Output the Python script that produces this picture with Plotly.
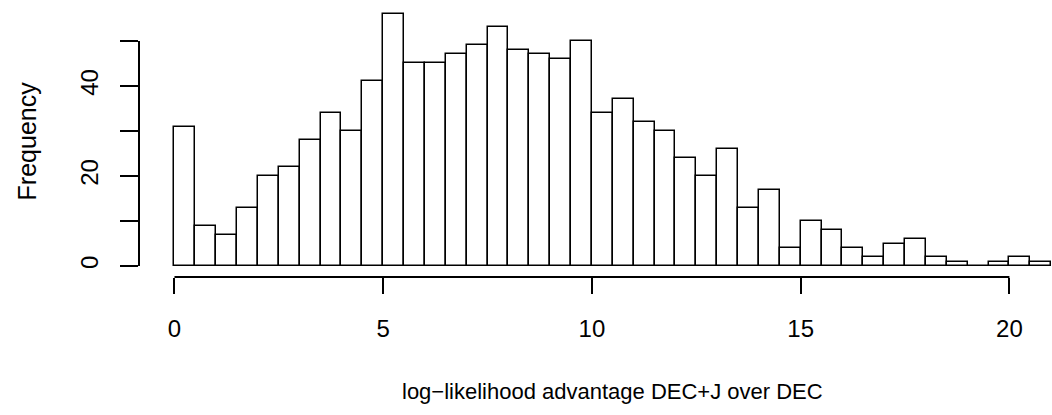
import plotly.graph_objects as go

# Histogram bins (width 0.5) and counts
bin_left = [i * 0.5 for i in range(42)]
counts = [31, 9, 7, 13, 20, 22, 28, 34, 30, 41,
          56, 45, 45, 47, 49, 53, 48, 47, 46, 50,
          34, 37, 32, 30, 24, 20, 26, 13, 17, 4,
          10, 8, 4, 2, 5, 6, 2, 1, 0, 1,
          2, 1]
bin_width = 0.5
x_ticks = [0, 5, 10, 15, 20]
y_ticks = [0, 10, 20, 30, 40, 50]
y_ticktext = ["0", "", "20", "", "40", ""]

FONT = "Liberation Sans, Arial, Helvetica, sans-serif"

centers = [b + bin_width / 2 for b in bin_left]

fig = go.Figure()
fig.add_trace(go.Bar(
    x=centers, y=counts, width=[bin_width] * len(counts),
    marker=dict(color="white", line=dict(color="black", width=1.5)),
    hoverinfo="x+y",
))

fig.update_layout(
    width=1052, height=415,
    margin=dict(l=139, r=0, t=4, b=138),
    plot_bgcolor="white", paper_bgcolor="white",
    showlegend=False,
    bargap=0,
    font=dict(family=FONT, size=22, color="black"),
    xaxis=dict(
        range=[-0.85, 21.02], showgrid=False, zeroline=False, showline=False,
        tickmode="array", tickvals=x_ticks, ticktext=[str(v) for v in x_ticks],
        ticks="outside", ticklen=16, tickwidth=2, tickcolor="black",
        ticklabelstandoff=14,
        tickfont=dict(family=FONT, size=24, color="black"),
    ),
    yaxis=dict(
        range=[-2.444, 58.22], showgrid=False, zeroline=False, showline=False,
        tickmode="array", tickvals=y_ticks, ticktext=y_ticktext,
        ticks="outside", ticklen=18, tickwidth=2, tickcolor="black",
        tickangle=-90, ticklabelstandoff=12,
        tickfont=dict(family=FONT, size=24, color="black"),
    ),
    shapes=[
        dict(type="line", xref="x", yref="paper", x0=x_ticks[0], x1=x_ticks[-1], y0=0, y1=0,
             line=dict(color="black", width=2)),
        dict(type="line", xref="paper", yref="y", x0=0, x1=0, y0=y_ticks[0], y1=y_ticks[-1],
             line=dict(color="black", width=2)),
    ],
    annotations=[
        dict(text="log\u2212likelihood advantage DEC+J over DEC", xref="x", yref="paper",
             x=10.5, y=-0.42, xanchor="center", yanchor="middle", showarrow=False,
             font=dict(family=FONT, size=22, color="black")),
        dict(text="Frequency", xref="paper", yref="y", x=-0.1227, y=27.9,
             xanchor="center", yanchor="middle", textangle=-90, showarrow=False,
             font=dict(family=FONT, size=25, color="black")),
    ],
)

fig.write_html("out.html")
